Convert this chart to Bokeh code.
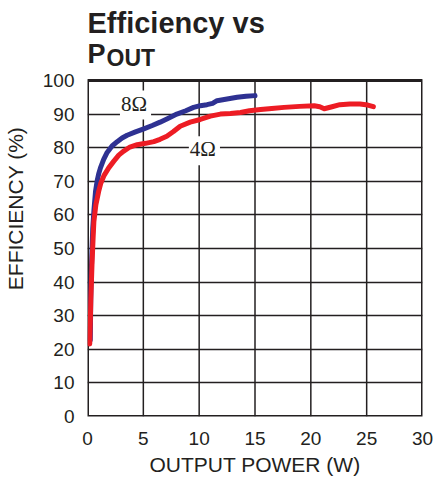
from bokeh.plotting import figure
from bokeh.models import Range1d, Label, FixedTicker
from bokeh.embed import file_html
from bokeh.resources import INLINE

# 8 ohm load (blue)
x_8ohm = [0.25, 0.27, 0.29, 0.33, 0.40, 0.47, 0.58, 0.72, 0.87, 1.0, 1.16, 1.45, 1.76, 2.2, 2.66,
          3.1, 3.55, 4.3, 5.04, 5.8, 6.5, 7.2, 8.0, 8.8, 9.5, 10.1, 10.7, 11.2, 11.6, 12.5,
          13.4, 14.2, 15.0]
y_8ohm = [22.7, 28.0, 35.0, 42.0, 49.3, 56.0, 61.5, 67.0, 70.2, 72.2, 74.0, 76.5, 78.6, 80.5,
          81.8, 82.9, 83.7, 84.7, 85.6, 86.6, 87.6, 88.7, 90.0, 91.0, 92.0, 92.5, 92.8, 93.2,
          94.0, 94.5, 95.0, 95.3, 95.5]

# 4 ohm load (red)
x_4ohm = [0.20, 0.25, 0.30, 0.40, 0.50, 0.57, 0.75, 1.0, 1.2, 1.46, 1.9, 2.36, 2.8, 3.25, 3.8,
          4.45, 5.2, 5.94, 6.5, 7.1, 7.7, 8.3, 9.2, 10.1, 11.0, 11.9, 12.8, 13.7, 14.5, 15.5,
          16.5, 17.6, 19.0, 20.3, 20.8, 21.2, 21.9, 22.6, 23.5, 24.4, 25.1, 25.6]
y_4ohm = [21.6, 28.0, 35.0, 45.0, 53.0, 58.0, 63.0, 67.0, 69.5, 71.6, 74.0, 76.0, 77.8, 79.0,
          80.2, 80.9, 81.3, 81.8, 82.5, 83.4, 84.8, 86.4, 87.6, 88.4, 89.4, 90.0, 90.2, 90.5,
          91.0, 91.4, 91.7, 92.0, 92.3, 92.5, 92.2, 91.6, 92.2, 92.8, 93.0, 93.0, 92.7, 92.2]

x_ticks = [0, 5, 10, 15, 20, 25, 30]
y_ticks = [0, 10, 20, 30, 40, 50, 60, 70, 80, 90, 100]
x_min, x_max = 0, 30
y_min, y_max = 0, 100

INK = "#231f20"
FONT = "Liberation Sans"

W, H = 435, 478
LEFT, RIGHT, BOTTOM = 87, 13, 62
CHART_TOP = 80                      # pixel row where y = 100 sits
frame_h = H - BOTTOM                 # frame spans from the top of the canvas
px_per_unit = (frame_h - CHART_TOP) / (y_max - y_min)
y_view_top = y_min + frame_h / px_per_unit   # headroom above 100 holds the title

p = figure(width=W, height=H, output_backend="svg", toolbar_location=None,
           x_range=Range1d(x_min, x_max), y_range=Range1d(y_min, y_view_top),
           min_border_left=LEFT, min_border_right=RIGHT, min_border_top=0,
           min_border_bottom=BOTTOM)

p.background_fill_color = "white"
p.border_fill_color = "white"
p.outline_line_color = None

for ax in (p.xaxis[0], p.yaxis[0]):
    ax.major_tick_out = 0
    ax.major_tick_in = 0
    ax.minor_tick_out = 0
    ax.minor_tick_in = 0
    ax.axis_line_color = None
    ax.major_label_text_font = FONT
    ax.major_label_text_font_size = "19px"
    ax.major_label_text_color = INK
    ax.axis_label_text_font = FONT
    ax.axis_label_text_font_size = "21px"
    ax.axis_label_text_font_style = "normal"
    ax.axis_label_text_color = INK

p.xaxis.ticker = FixedTicker(ticks=x_ticks)
p.yaxis.ticker = FixedTicker(ticks=y_ticks)
p.yaxis.bounds = (y_min, y_max)
p.xaxis.axis_label = "OUTPUT POWER (W)"
p.yaxis.axis_label = "EFFICIENCY (%)"
p.xaxis.major_label_standoff = 15
p.yaxis.major_label_standoff = 13
p.xaxis.axis_label_standoff = 5
p.yaxis.axis_label_standoff = 13

# horizontal grid lines from the library's grid
p.ygrid.ticker = FixedTicker(ticks=y_ticks[1:-1])
p.ygrid.grid_line_color = INK
p.ygrid.grid_line_width = 1.5
p.xgrid.visible = False

# vertical grid lines and chart border, limited to the 0-100 band
inner_x = x_ticks[1:-1]
p.segment(x0=inner_x, y0=[y_min] * len(inner_x), x1=inner_x, y1=[y_max] * len(inner_x),
          line_color=INK, line_width=1.5)
p.quad(left=[x_min], right=[x_max], bottom=[y_min], top=[y_max],
       fill_color=None, line_color=INK, line_width=3)

p.line(x_8ohm, y_8ohm, line_color="#2e3192", line_width=5, line_join="round", line_cap="round")
p.line(x_4ohm, y_4ohm, line_color="#ed1c24", line_width=5, line_join="round", line_cap="round")

p.add_layout(Label(x=4.3, y=92.7, text="8Ω", text_align="center", text_baseline="middle",
                   text_font="Liberation Serif", text_font_size="21px", text_color=INK,
                   background_fill_color="white", padding=(1, 4, 1, 4)))
p.add_layout(Label(x=10.47, y=79.1, text="4Ω", text_align="center", text_baseline="middle",
                   text_font="Liberation Serif", text_font_size="21px", text_color=INK,
                   background_fill_color="white", padding=(1, 4, 1, 4)))

# title (screen px measured from the frame's bottom-left corner)
p.add_layout(Label(x=0, y=frame_h - 22.5, x_units="screen", y_units="screen",
                   text="Efficiency vs", text_font=FONT, text_font_size="29px",
                   text_font_style="bold", text_color=INK, text_baseline="alphabetic"))
p.add_layout(Label(x=0, y=frame_h - 53.5, x_units="screen", y_units="screen",
                   text="P", text_font=FONT, text_font_size="27px",
                   text_font_style="bold", text_color=INK, text_baseline="alphabetic"))
p.add_layout(Label(x=19, y=frame_h - 57.5, x_units="screen", y_units="screen",
                   text="OUT", text_font=FONT, text_font_size="23px",
                   text_font_style="bold", text_color=INK, text_baseline="alphabetic"))

open("out.html", "w").write(file_html(p, INLINE))
